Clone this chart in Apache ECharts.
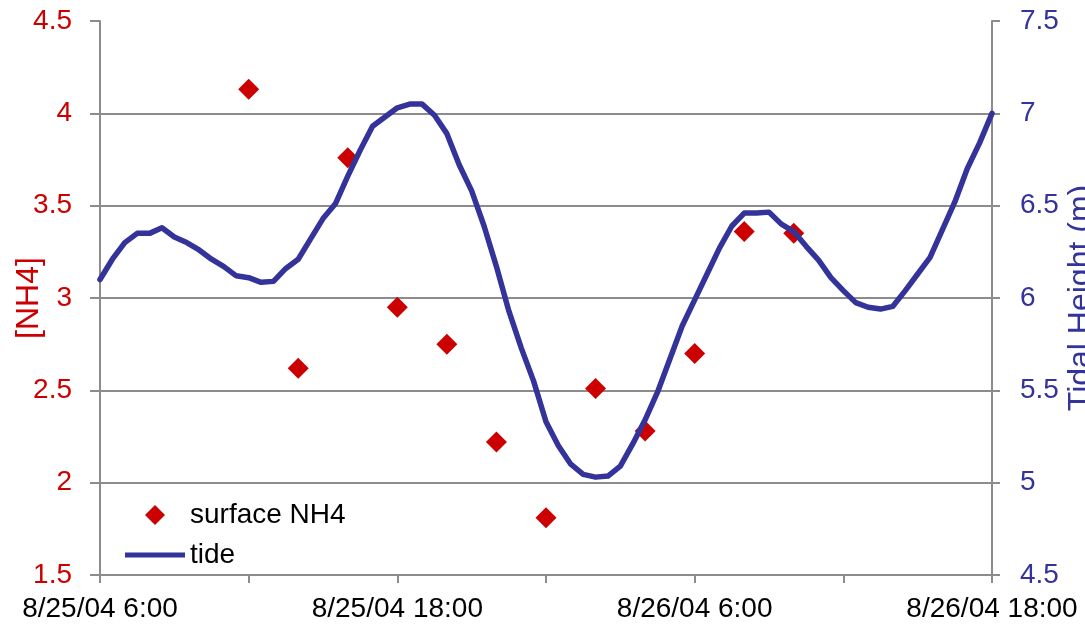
<!DOCTYPE html>
<html>
<head>
<meta charset="utf-8">
<script src="https://cdn.jsdelivr.net/npm/echarts@6/dist/echarts.min.js"></script>
<style>
  html, body { margin: 0; padding: 0; background: #fff; }
  #chart { width: 1085px; height: 634px; }
</style>
</head>
<body>
<div id="chart"></div>
<script>
// surface NH4 samples
const nh4Times = ['8/25/04 12:00', '8/25/04 14:00', '8/25/04 16:00', '8/25/04 18:00',
  '8/25/04 20:00', '8/25/04 22:00', '8/26/04 0:00', '8/26/04 2:00',
  '8/26/04 4:00', '8/26/04 6:00', '8/26/04 8:00', '8/26/04 10:00']
const nh4Values = [4.13, 2.62, 3.76, 2.95, 2.75, 2.22, 1.81, 2.51, 2.28, 2.70, 3.36, 3.35]

// tide height (m), every 30 min from 8/25/04 6:00
const tideStepHours = 0.5
const tideHeights = [
  6.10, 6.21, 6.30, 6.35, 6.35, 6.38, 6.33, 6.30, 6.26, 6.21, 6.17, 6.12,
  6.11, 6.085, 6.09, 6.16, 6.21, 6.32, 6.43, 6.51, 6.66, 6.80, 6.93, 6.98,
  7.03, 7.05, 7.05, 6.99, 6.89, 6.72, 6.58, 6.39, 6.17, 5.93, 5.73, 5.55,
  5.33, 5.20, 5.10, 5.045, 5.03, 5.036, 5.09, 5.21, 5.34, 5.49, 5.67, 5.85,
  5.99, 6.13, 6.27, 6.39, 6.46, 6.46, 6.465, 6.40, 6.36, 6.28, 6.205, 6.11,
  6.04, 5.975, 5.95, 5.94, 5.955, 6.04, 6.13, 6.22, 6.37, 6.52, 6.70, 6.84, 7.0
]

// x axis is hours since 8/25/04 6:00
function toHours(s) {
  const [date, time] = s.split(' ')
  const day = +date.split('/')[1]
  const hr = +time.split(':')[0]
  return (day - 25) * 24 + hr - 6
}
function hourLabel(h) {
  if (h % 12 !== 0) return ''
  const total = 6 + h
  return '8/' + (25 + Math.floor(total / 24)) + '/04 ' + (total % 24) + ':00'
}

const FONT = 'Liberation Sans'
const FS = 28
const RED = '#CC0000'
const NAVY = '#333399'
const GRAY = '#8c8c8c'

const chart = echarts.init(document.getElementById('chart'))
chart.setOption({
  animation: false,
  backgroundColor: '#fff',
  grid: { left: 100, right: 93, top: 21, bottom: 59, outerBoundsMode: 'none' },
  legend: {
    orient: 'vertical',
    left: 120,
    top: 496,
    itemWidth: 60,
    itemHeight: 20,
    itemGap: 12,
    symbolKeepAspect: true,
    textStyle: { fontFamily: FONT, fontSize: FS, color: '#000' },
    data: [
      { name: 'surface NH4', icon: 'path://M10,0L20,10L10,20L0,10Z', itemStyle: { color: RED, opacity: 1 } },
      { name: 'tide', icon: 'path://M0,0H60V5H0Z', itemStyle: { color: NAVY } }
    ]
  },
  xAxis: {
    type: 'value',
    min: 0,
    max: 36,
    interval: 6,
    axisLine: { lineStyle: { color: GRAY, width: 2 } },
    axisTick: { length: 8, lineStyle: { color: GRAY, width: 2 } },
    axisLabel: { formatter: hourLabel, margin: 20, color: '#000', fontFamily: FONT, fontSize: FS },
    splitLine: { show: false }
  },
  yAxis: [
    {
      type: 'value',
      min: 1.5,
      max: 4.5,
      interval: 0.5,
      name: '[NH4]',
      nameLocation: 'middle',
      nameGap: 55,
      nameMoveOverlap: false,
      nameTextStyle: { color: RED, fontFamily: FONT, fontSize: 32 },
      axisLine: { show: true, lineStyle: { color: GRAY, width: 2 } },
      axisTick: { show: true, length: 10, lineStyle: { color: GRAY, width: 2 } },
      axisLabel: { margin: 28, color: RED, fontFamily: FONT, fontSize: FS },
      splitLine: { show: true, showMaxLine: false, lineStyle: { color: GRAY, width: 2 } }
    },
    {
      type: 'value',
      min: 4.5,
      max: 7.5,
      interval: 0.5,
      position: 'right',
      name: 'Tidal Height (m)',
      nameLocation: 'middle',
      nameGap: 73,
      nameMoveOverlap: false,
      nameTextStyle: { color: NAVY, fontFamily: FONT, fontSize: 32 },
      axisLine: { show: true, lineStyle: { color: GRAY, width: 2 } },
      axisTick: { show: true, length: 8, lineStyle: { color: GRAY, width: 2 } },
      axisLabel: { margin: 28, color: NAVY, fontFamily: FONT, fontSize: FS },
      splitLine: { show: false }
    }
  ],
  series: [
    {
      name: 'surface NH4',
      type: 'scatter',
      yAxisIndex: 0,
      symbol: 'diamond',
      symbolSize: 21,
      itemStyle: { color: RED, opacity: 1 },
      z: 2,
      data: nh4Times.map((t, i) => [toHours(t), nh4Values[i]])
    },
    {
      name: 'tide',
      type: 'line',
      yAxisIndex: 1,
      showSymbol: false,
      symbol: 'none',
      lineStyle: { color: NAVY, width: 5.5, join: 'round', cap: 'round' },
      itemStyle: { color: NAVY },
      z: 3,
      data: tideHeights.map((v, i) => [i * tideStepHours, v])
    }
  ]
})
</script>
</body>
</html>
